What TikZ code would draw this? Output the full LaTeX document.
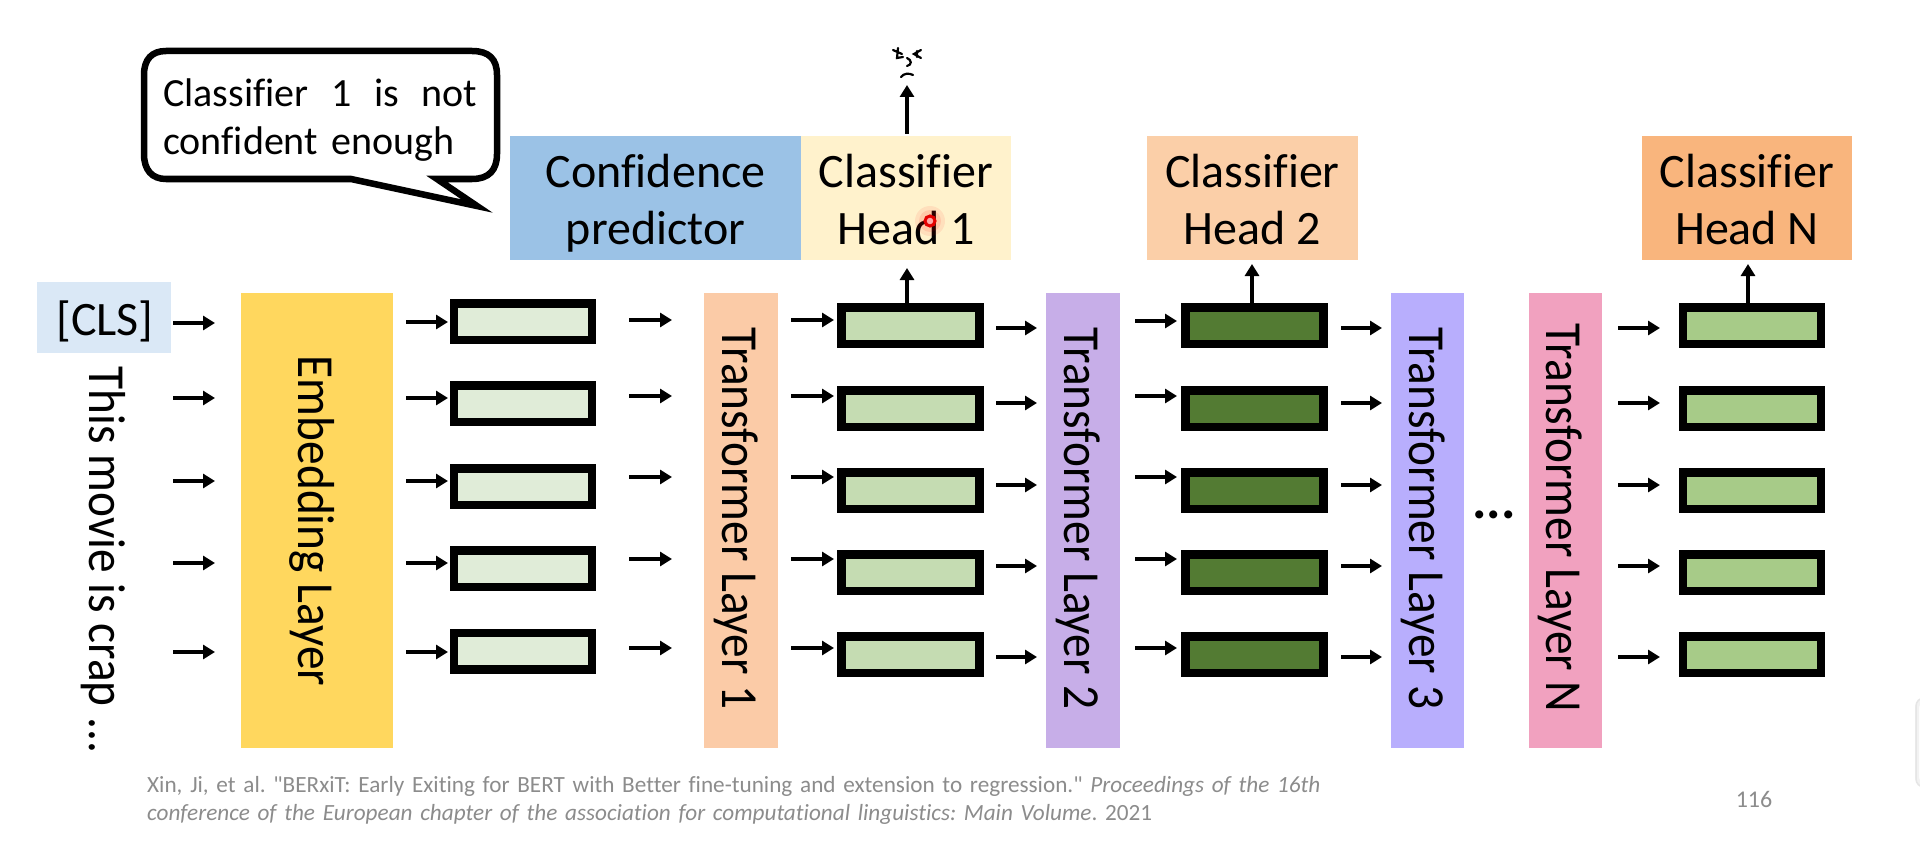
\documentclass[tikz,border=0pt]{standalone}
\usepackage{fontspec}
\usepackage{graphicx}
\setmainfont{Carlito}[Ligatures=NoCommon]
\newfontfamily\citefont{Carlito}[Ligatures=NoCommon]
\usetikzlibrary{arrows.meta}
\definecolor{cCls}{HTML}{DAE8F6}
\definecolor{cEmb}{HTML}{FFD75E}
\definecolor{cTa}{HTML}{FBCBA7}
\definecolor{cTb}{HTML}{C7AEE8}
\definecolor{cTc}{HTML}{B8AEFD}
\definecolor{cTn}{HTML}{F1A1BF}
\definecolor{cA}{HTML}{E0ECD8}
\definecolor{cB}{HTML}{C5DCB2}
\definecolor{cC}{HTML}{537B33}
\definecolor{cD}{HTML}{A7CB88}
\definecolor{cConf}{HTML}{9BC2E6}
\definecolor{cHa}{HTML}{FFF2CC}
\definecolor{cHb}{HTML}{FBCFA8}
\definecolor{cHn}{HTML}{F9B57D}
\definecolor{cGrey}{HTML}{8C8C8C}
\newcommand{\bigtxt}{\fontsize{48}{57}\selectfont}
\newcommand{\rottxt}[1]{\fontsize{52}{60}\selectfont\scalebox{.91}[1]{#1}}
\frenchspacing
\tikzset{
  box/.style={inner sep=0pt,outer sep=0pt,align=center,font=\bigtxt},
  vec/.style={draw=black,line width=8.5pt,inner sep=0pt,outer sep=0pt,minimum width=138pt,minimum height=36.5pt},
  arr/.style={line width=4.2pt,-{Triangle[length=12pt,width=14pt]}},
  rot/.style={rotate=-90,anchor=base,inner sep=0pt,outer sep=0pt},
  scrib/.style={line width=2.2pt,line cap=round,black}
}
\newcommand{\arrowrow}[4]{% name, x1, x2, list of y
  \foreach \yy [count=\ii] in {#4} {
    \coordinate (#1s\ii) at (#2,\yy);
    \coordinate (#1e\ii) at (#3,\yy);
    \draw[arr] (#1s\ii) -- (#1e\ii);
  }
}
\newcommand{\vecrow}[4]{% name, x, fill, list of y
  \foreach \yy [count=\ii] in {#4} {
    \node[vec,fill=#3] (#1\ii) at (#2,\yy) {};
  }
}
\begin{document}
\begin{tikzpicture}[x=1pt,y=-1pt]
\useasboundingbox (0,0) rectangle (1920,848);
\fill[white] (0,0) rectangle (1920,848);

% faint panel at the right edge
\draw[black!5,line width=4pt,rounded corners=8pt] (1926,700) -- (1917,700) -- (1917,785) -- (1926,785);
\draw[black!10,line width=1.5pt,rounded corners=8pt] (1926,698) -- (1916,698) -- (1916,787) -- (1926,787);

% layers
\node[box,fill=cCls,minimum width=134pt,minimum height=71pt] (cls) at (104,317.5) {};
\node[anchor=base,inner sep=0pt,font=\fontsize{48}{52}\selectfont] (clst) at (105,335) {[CLS]};
\node[box,fill=cEmb,minimum width=152pt,minimum height=455pt] (emb) at (317,520) {};
\node[box,fill=cTa,minimum width=74pt,minimum height=455pt] (ta) at (741,520) {};
\node[box,fill=cTb,minimum width=74pt,minimum height=455pt] (tb) at (1083,520) {};
\node[box,fill=cTc,minimum width=73pt,minimum height=455pt] (tc) at (1427.5,520) {};
\node[box,fill=cTn,minimum width=73pt,minimum height=455pt] (tn) at (1565.5,520) {};

\node[rot] (movie) at (89,560) {\rottxt{This movie is crap ...}};
\node[rot] (embt) at (298,521) {\rottxt{Embedding Layer}};
\node[rot] (tat) at (722,518.5) {\rottxt{Transformer Layer 1}};
\node[rot] (tbt) at (1064,518.5) {\rottxt{Transformer Layer 2}};
\node[rot] (tct) at (1409,518) {\rottxt{Transformer Layer 3}};
\node[rot] (tnt) at (1546,518) {\rottxt{Transformer Layer N}};

\node[anchor=base,inner sep=0pt,font=\fontsize{54}{56}\bfseries\selectfont] (dots) at (1494,518) {...};

% heads
\node[box,fill=cConf,minimum width=291pt,minimum height=124pt] (conf) at (655.5,198) {};
\node[box,anchor=base] (conft) at (655.5,244) {Confidence\\predictor};
\node[box,fill=cHa,minimum width=210pt,minimum height=124pt] (ha) at (906,198) {};
\node[box,anchor=base] (hat) at (906,244) {Classifier\\Head 1};
\node[box,fill=cHb,minimum width=211pt,minimum height=124pt] (hb) at (1252.5,198) {};
\node[box,anchor=base] (hbt) at (1252.5,244) {Classifier\\Head 2};
\node[box,fill=cHn,minimum width=210pt,minimum height=124pt] (hn) at (1747,198) {};
\node[box,anchor=base] (hnt) at (1747,244) {Classifier\\Head N};

% vectors
\vecrow{p}{523}{cA}{321.5,403.5,486.5,568.5,651}
\vecrow{q}{910.5}{cB}{325.5,408.5,490.5,572.5,654.5}
\vecrow{r}{1254.5}{cC}{325.5,408.5,490.5,572.5,654.5}
\vecrow{s}{1752}{cD}{325.5,408.5,490.5,572.5,654.5}

% horizontal arrows
\arrowrow{a}{173}{215}{323,398,481,563,652}
\arrowrow{b}{406}{448}{322,398,481,563,652}
\arrowrow{c}{629}{672}{320,396,477,559,648}
\arrowrow{d}{791}{834}{320,396,477,559,648}
\arrowrow{e}{996}{1037}{328,403,485,566,657}
\arrowrow{f}{1135}{1177}{321,396,477,559,648}
\arrowrow{g}{1341}{1382}{328,403,485,566,657}
\arrowrow{h}{1618}{1660}{328,403,485,566,657}

% vertical arrows
\coordinate (qt) at (907,303);
\coordinate (rt) at (1252,303);
\coordinate (st) at (1748,303);
\coordinate (qh) at (907,268);
\coordinate (rh) at (1252,264);
\coordinate (sh) at (1748,264);
\coordinate (ht) at (907,134);
\coordinate (hh) at (907,85);
\draw[arr] (qt) -- (qh);
\draw[arr] (rt) -- (rh);
\draw[arr] (st) -- (sh);
\draw[arr] (ht) -- (hh);

% scribble above the arrow
\draw[scrib] (893,50) -- (902,54) (898,48) -- (897,58) -- (903,57);
\draw[scrib] (921,50) -- (914,54) -- (921,58) (917,51) -- (917,57);
\draw[scrib] (907,58) .. controls (912,60) and (912,65) .. (907,66);
\draw[scrib] (901,77) .. controls (904,73) and (909,73) .. (913,75);

% speech bubble
\draw[line width=6.5pt,fill=white,line join=miter]
  (166,51) -- (472,51)
  .. controls (489,51) and (497,59) .. (497,75)
  -- (497,154)
  .. controls (497,170) and (489,179) .. (472,179)
  -- (437,179) -- (477,206) -- (351,179)
  -- (166,179)
  .. controls (152,179) and (144,170) .. (144,154)
  -- (144,75)
  .. controls (144,59) and (152,51) .. (166,51) -- cycle;
\node[anchor=base west,inner sep=0pt,text width=314pt,font=\fontsize{40}{48}\selectfont] (bub) at (163,107)
  {Classifier\hfill 1\hfill is\hfill not\\confident enough};

% pointer dot
\fill[red,opacity=.08] (930,221) circle (15pt);
\fill[red,opacity=.10] (930,221) circle (11pt);
\draw[red!90!black,line width=3pt,fill=white!65!red] (930,221) circle (5pt);

% citation
\node[anchor=base west,inner sep=0pt,text width=1300pt,text=cGrey,font=\citefont\fontsize{23.2}{28}\selectfont] (cite) at (147,792)
  {Xin, Ji, et al. "BERxiT: Early Exiting for BERT with Better fine-tuning and extension to regression." \textit{Proceedings of the 16th}\\\textit{conference of the European chapter of the association for computational linguistics: Main Volume}. 2021};
\node[anchor=base,inner sep=0pt,text=cGrey,font=\fontsize{24}{28}\selectfont] (page) at (1754,807) {116};
\end{tikzpicture}
\end{document}
